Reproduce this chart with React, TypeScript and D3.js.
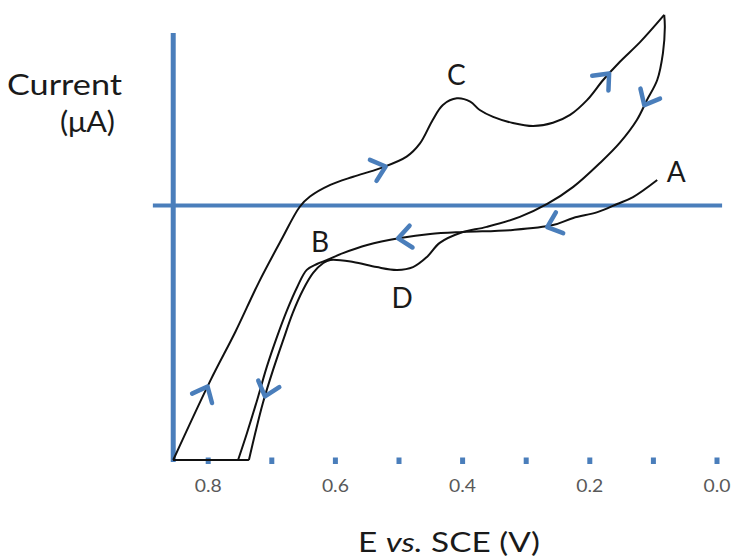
import React from "react";
import * as d3 from "d3";

const width = 733;
const height = 560;
const blue = "#4a7ebb";
const font = "Lato, 'Open Sans', sans-serif";

// [potential (V vs. SCE), current (μA, arbitrary units)]
const scanFromA = [
  [0.094, 1.0], [0.132, 0.33], [0.157, 0.06], [0.188, -0.26], [0.226, -0.49],
  [0.258, -0.77], [0.321, -0.96], [0.399, -1.04], [0.451, -1.12], [0.498, -1.28],
  [0.55, -1.55], [0.588, -1.87], [0.613, -2.14], [0.629, -2.3], [0.645, -2.53],
  [0.66, -3.2], [0.676, -4.11], [0.692, -5.17], [0.708, -6.35], [0.723, -7.64],
  [0.739, -8.94], [0.753, -10],
];
const lowerTurn1 = [[0.753, -10], [0.855, -10]];
const forwardScan = [
  [0.855, -10], [0.797, -6.9], [0.757, -4.95], [0.72, -3.0], [0.685, -1.35],
  [0.656, -0.05], [0.64, 0.35], [0.608, 0.81], [0.572, 1.13], [0.53, 1.46],
  [0.488, 1.92], [0.467, 2.44], [0.447, 3.36], [0.431, 3.95], [0.409, 4.21],
  [0.388, 4.08], [0.373, 3.75], [0.352, 3.48], [0.321, 3.24], [0.289, 3.12],
  [0.258, 3.25], [0.231, 3.56], [0.204, 4.15], [0.179, 4.93], [0.153, 5.64],
  [0.121, 6.42], [0.083, 7.49],
];
const reverseScan = [
  [0.083, 7.49], [0.082, 7.01], [0.085, 5.99], [0.094, 4.93], [0.11, 4.15],
  [0.126, 3.36], [0.153, 2.46], [0.184, 1.67], [0.226, 0.73], [0.267, 0.06],
  [0.31, -0.45], [0.362, -0.84], [0.404, -1.08], [0.436, -1.47], [0.456, -2.02],
  [0.478, -2.42], [0.503, -2.53], [0.535, -2.42], [0.572, -2.22], [0.608, -2.14],
  [0.619, -2.26], [0.635, -2.65], [0.651, -3.32], [0.667, -4.22], [0.682, -5.28],
  [0.698, -6.46], [0.714, -7.76], [0.726, -8.94], [0.736, -10],
];
const lowerTurn2 = [[0.736, -10], [0.855, -10]];

const smoothSegments = [scanFromA, forwardScan, reverseScan];
const straightSegments = [lowerTurn1, lowerTurn2];

// scan-direction arrows: which segment, at which potential
const arrowSegments = [forwardScan, forwardScan, reverseScan, scanFromA, scanFromA, forwardScan, reverseScan];
const arrowPotentials = [0.53, 0.176, 0.11, 0.258, 0.492, 0.805, 0.708];

const tickValues = [0, 0.1, 0.2, 0.3, 0.4, 0.5, 0.6, 0.7, 0.8];
const labelledTicks = [0.8, 0.6, 0.4, 0.2, 0.0];

const pointNames = ["A", "B", "C", "D"];
const pointPotentials = [0.064, 0.624, 0.41, 0.495];
const pointCurrents = [1.32, -1.43, 5.13, -3.63];

const xScale = d3.scaleLinear().domain([0, 0.8]).range([717, 208.2]);
const yScale = d3.scaleLinear().domain([-10, 7.5]).range([460, 14.6]);

const smoothLine = d3
  .line<number[]>()
  .x(d => xScale(d[0]))
  .y(d => yScale(d[1]))
  .curve(d3.curveCatmullRom.alpha(0.5));
const straightLine = d3
  .line<number[]>()
  .x(d => xScale(d[0]))
  .y(d => yScale(d[1]));

const arrowAt = (seg: number[][], e: number) => {
  for (let i = 0; i < seg.length - 1; i++) {
    const a = seg[i];
    const b = seg[i + 1];
    if ((e - a[0]) * (e - b[0]) <= 0 && a[0] !== b[0]) {
      const t = (e - a[0]) / (b[0] - a[0]);
      const x = xScale(a[0] + t * (b[0] - a[0]));
      const y = yScale(a[1] + t * (b[1] - a[1]));
      const dx = xScale(b[0]) - xScale(a[0]);
      const dy = yScale(b[1]) - yScale(a[1]);
      const ang = (Math.atan2(dy, dx) * 180) / Math.PI;
      return { x, y, ang };
    }
  }
  return null;
};

const Arrow = ({ seg, e }: { seg: number[][]; e: number }) => {
  const p = arrowAt(seg, e);
  if (!p) return null;
  return (
    <g transform={`translate(${p.x},${p.y}) rotate(${p.ang})`}>
      <path
        d="M-7,-11 L6,0 L-7,11"
        fill="none"
        stroke={blue}
        strokeWidth={4.5}
        strokeLinecap="round"
        strokeLinejoin="round"
      />
    </g>
  );
};

const App = () => {
  const x0 = xScale(0.855);
  const y0 = yScale(0);
  return (
    <svg
      width={width}
      height={height}
      style={{ position: "absolute", left: 0, top: 0, background: "#fff" }}
      fontFamily={font}
    >
      {/* axes */}
      <line x1={x0} x2={x0} y1={33} y2={462} stroke={blue} strokeWidth={5} />
      <line x1={xScale(0.887)} x2={xScale(-0.008)} y1={y0} y2={y0} stroke={blue} strokeWidth={4} />
      {tickValues.map(v => (
        <rect key={v} x={xScale(v) - 2.5} y={457.5} width={5} height={6.5} fill={blue} />
      ))}
      {labelledTicks.map(v => (
        <text
          key={v}
          x={xScale(v) - 13.5}
          y={492}
          fontSize={17}
          fill="#595959"
          textLength={27}
          lengthAdjust="spacingAndGlyphs"
        >
          {v.toFixed(1)}
        </text>
      ))}

      {/* voltammogram */}
      {smoothSegments.map((seg, i) => (
        <path key={i} d={smoothLine(seg) || ""} fill="none" stroke="#111" strokeWidth={2} strokeLinejoin="round" />
      ))}
      {straightSegments.map((seg, i) => (
        <path key={i} d={straightLine(seg) || ""} fill="none" stroke="#111" strokeWidth={2} />
      ))}
      {arrowPotentials.map((e, i) => (
        <Arrow key={i} seg={arrowSegments[i]} e={e} />
      ))}

      {pointNames.map((n, i) => (
        <text
          key={n}
          x={xScale(pointPotentials[i])}
          y={yScale(pointCurrents[i]) + 10}
          fontSize={28}
          textAnchor="middle"
          fill="#1a1a1a"
        >
          {n}
        </text>
      ))}

      {/* axis titles */}
      <text x={7} y={95} fontSize={29} fill="#1a1a1a" textLength={115} lengthAdjust="spacingAndGlyphs">
        Current
      </text>
      <text x={60} y={132} fontSize={29} fill="#1a1a1a" textLength={55} lengthAdjust="spacingAndGlyphs">
        (μA)
      </text>
      <text x={358} y={552} fontSize={27} fill="#1a1a1a" textLength={182} lengthAdjust="spacingAndGlyphs">
        E <tspan fontStyle="italic">vs.</tspan> SCE (V)
      </text>
    </svg>
  );
};

export default App;
